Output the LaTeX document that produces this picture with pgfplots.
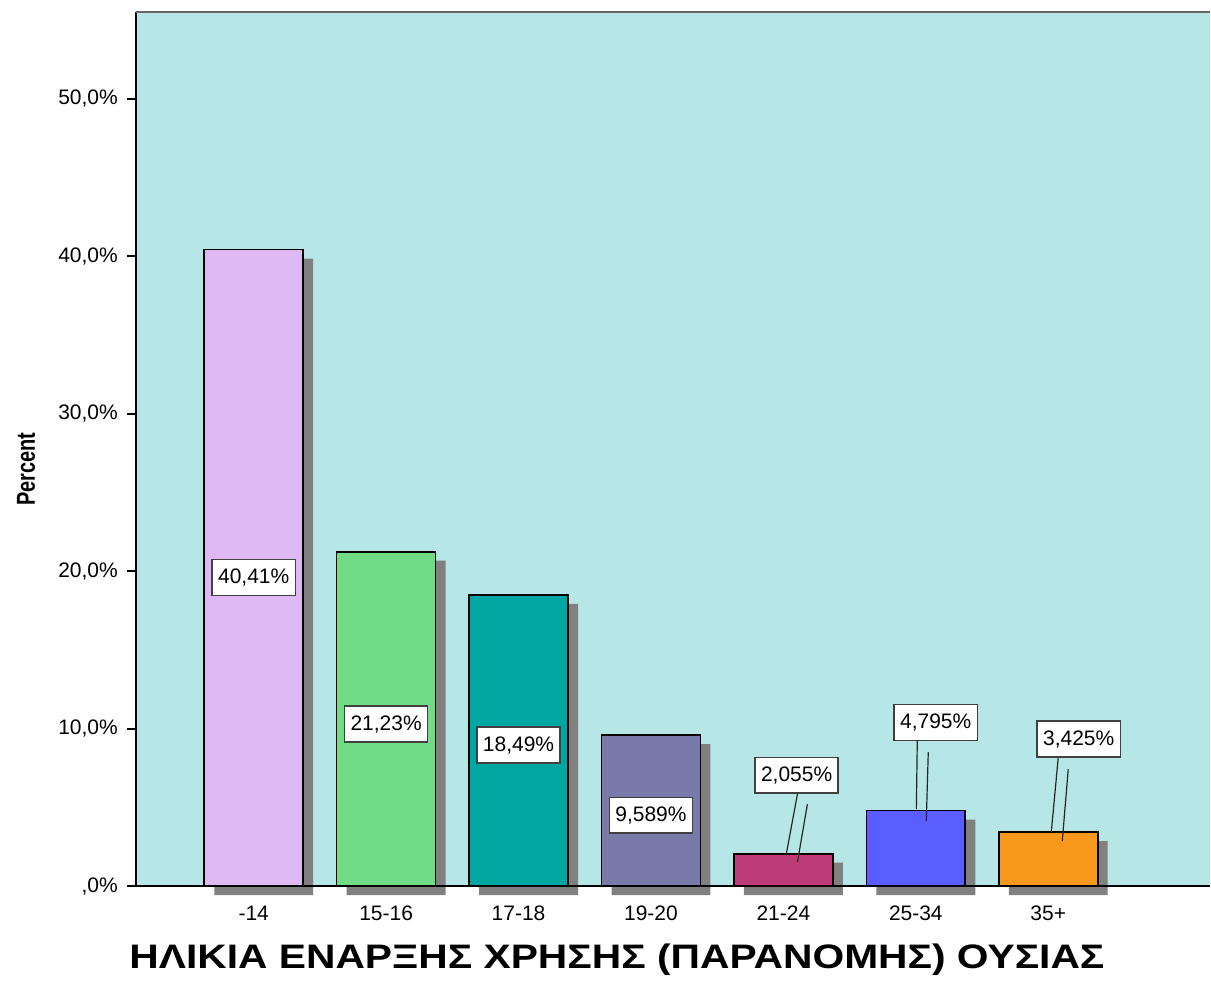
\documentclass[border=0pt]{standalone}
\usepackage{fontspec}
\setmainfont{Liberation Sans}
\newfontfamily\widefont[FakeStretch=1.2]{Liberation Sans}
\usepackage{pgfplots}
\pgfplotsset{compat=1.18}

\definecolor{bgcyan}{RGB}{182,230,230}
\definecolor{shadowgray}{RGB}{128,128,128}
\definecolor{barA}{RGB}{223,185,243}
\definecolor{barB}{RGB}{112,221,134}
\definecolor{barC}{RGB}{0,166,161}
\definecolor{barD}{RGB}{122,122,170}
\definecolor{barE}{RGB}{190,60,120}
\definecolor{barF}{RGB}{90,94,255}
\definecolor{barG}{RGB}{248,152,29}

\begin{document}
\begin{tikzpicture}
\begin{axis}[
  scale only axis,
  width=537.5pt, height=437.5pt,
  xmin=-0.89, xmax=7.22,
  ymin=0, ymax=55.5,
  clip=false,
  axis background/.style={fill=bgcyan},
  axis line style={draw=none},
  tick align=outside,
  xtick pos=lower,
  ytick pos=left,
  major tick length=4.5pt,
  every tick/.style={black, line width=1pt},
  xtick={0,1,2,3,4,5,6},
  xticklabels={-14,15-16,17-18,19-20,21-24,25-34,35+},
  ytick={0,10,20,30,40,50},
  yticklabels={{,0\%},{10,0\%},{20,0\%},{30,0\%},{40,0\%},{50,0\%}},
  ticklabel style={font=\fontsize{10.5}{12}\selectfont},
  yticklabel style={xshift=-1pt},
  xticklabel style={yshift=-2pt},
  xlabel={\widefont\bfseries ΗΛΙΚΙΑ ΕΝΑΡΞΗΣ ΧΡΗΣΗΣ (ΠΑΡΑΝΟΜΗΣ) ΟΥΣΙΑΣ},
  xlabel style={at={(axis description cs:0.448,0)}, anchor=center, yshift=-37pt,
    font=\fontsize{17}{20}\selectfont},
  ylabel={\scalebox{1}[1.3]{\bfseries Percent}},
  ylabel style={at={(axis description cs:-0.1023,0.477)}, anchor=center,
    font=\fontsize{10}{11}\selectfont},
]
% shadows
\addplot[ybar, bar width=49.5pt, bar shift=0pt, fill=shadowgray, draw=none,
  xshift=5pt, yshift=-4.5pt]
  coordinates {(0,40.41) (1,21.23) (2,18.49) (3,9.589) (4,2.055) (5,4.795) (6,3.425)};
% bars
\addplot[ybar, bar width=49.5pt, bar shift=0pt, fill=barA, draw=black, line width=0.8pt] coordinates {(0,40.41)};
\addplot[ybar, bar width=49.5pt, bar shift=0pt, fill=barB, draw=black, line width=0.8pt] coordinates {(1,21.23)};
\addplot[ybar, bar width=49.5pt, bar shift=0pt, fill=barC, draw=black, line width=0.8pt] coordinates {(2,18.49)};
\addplot[ybar, bar width=49.5pt, bar shift=0pt, fill=barD, draw=black, line width=0.8pt] coordinates {(3,9.589)};
\addplot[ybar, bar width=49.5pt, bar shift=0pt, fill=barE, draw=black, line width=0.8pt] coordinates {(4,2.055)};
\addplot[ybar, bar width=49.5pt, bar shift=0pt, fill=barF, draw=black, line width=0.8pt] coordinates {(5,4.795)};
\addplot[ybar, bar width=49.5pt, bar shift=0pt, fill=barG, draw=black, line width=0.8pt] coordinates {(6,3.425)};

% leader lines
\draw[black!85, line width=0.6pt] (axis cs:4.106,5.84) -- (axis cs:4.023,2.09);
\draw[black!85, line width=0.6pt] (axis cs:4.181,5.20) -- (axis cs:4.106,1.52);
\draw[black!85, line width=0.6pt] (axis cs:5.011,9.20) -- (axis cs:5.004,4.89);
\draw[black!85, line width=0.6pt] (axis cs:5.094,8.50) -- (axis cs:5.079,4.12);
\draw[black!85, line width=0.6pt] (axis cs:6.075,8.12) -- (axis cs:6.023,3.43);
\draw[black!85, line width=0.6pt] (axis cs:6.151,7.42) -- (axis cs:6.106,2.86);

% value labels
\tikzset{vlab/.style={draw=black!75, fill=white, line width=0.75pt, inner xsep=3pt,
  inner ysep=0pt, minimum height=18pt, font=\fontsize{10.5}{12}\selectfont}}
\node[vlab] at (axis cs:0,19.6) {40,41\%};
\node[vlab] at (axis cs:1,10.28) {21,23\%};
\node[vlab] at (axis cs:2,8.95) {18,49\%};
\node[vlab] at (axis cs:3,4.5) {9,589\%};
\node[vlab] at (axis cs:4.10,7.04) {2,055\%};
\node[vlab] at (axis cs:5.15,10.4) {4,795\%};
\node[vlab] at (axis cs:6.23,9.33) {3,425\%};

% frame: left, bottom, top
\draw[black, line width=0.7pt] (rel axis cs:0,1) -- (rel axis cs:0,0) -- (rel axis cs:1,0);
\draw[black!60, line width=1.2pt] (rel axis cs:0,1) -- (rel axis cs:1,1);
\end{axis}
% page size as in reference
\path ([xshift=-68pt, yshift=-45.5pt]current axis.south west) rectangle ([yshift=6pt]current axis.north east);
\end{tikzpicture}
\end{document}
